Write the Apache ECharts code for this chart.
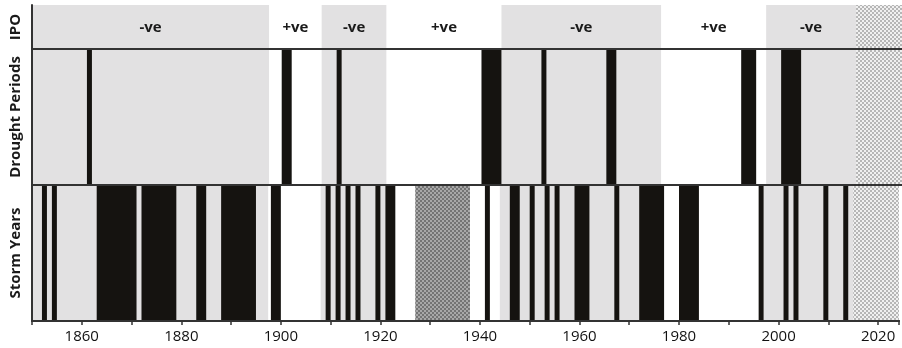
<!DOCTYPE html>
<html><head><meta charset="utf-8">
<script src="https://cdn.jsdelivr.net/npm/echarts@6/dist/echarts.min.js"></script>
<style>html,body{margin:0;padding:0;background:#fff}#c{width:902px;height:348px}</style>
</head><body><div id="c"></div>
<script>
// ---- data ----
const rowNames = ['IPO', 'Drought Periods', 'Storm Years'];
const ipoStarts = [1850, 1897.5, 1908, 1921, 1944, 1976, 1997];
const ipoEnds   = [1897.5, 1908, 1921, 1944, 1976, 1997, 2015];
const ipoSigns  = ['-ve', '+ve', '-ve', '+ve', '-ve', '+ve', '-ve'];
const unknownPeriod = [2015, 2024.2];
const droughtStarts = [1861, 1900, 1911, 1940, 1952, 1965, 1992, 2000];
const droughtEnds   = [1862, 1902, 1912, 1944, 1953, 1967, 1995, 2004];
const stormStarts = [1852, 1854, 1863, 1872, 1883, 1888, 1898, 1909, 1911, 1913, 1915, 1919, 1921, 1941, 1946, 1950, 1953, 1955, 1959, 1967, 1972, 1980, 1996, 2001, 2003, 2009, 2013];
const stormEnds   = [1853, 1855, 1871, 1879, 1885, 1895, 1900, 1910, 1912, 1914, 1916, 1920, 1923, 1942, 1948, 1951, 1954, 1956, 1962, 1968, 1977, 1984, 1997, 2002, 2004, 2010, 2014];
const stormNoData = [1927, 1938];
const xMin = 1850, xMax = 2024.2, tickStep = 10, labelStep = 20;

// ---- styles ----
const GRAY = '#e2e1e2', BLACK = '#151310', LINE = '#333';
const FONT = '"Open Sans", "DejaVu Sans", sans-serif';
function makePattern(bg, fg, cell) {
  const c = document.createElement('canvas'); c.width = c.height = cell * 2;
  const g = c.getContext('2d'); g.fillStyle = bg; g.fillRect(0, 0, cell * 2, cell * 2);
  g.fillStyle = fg; g.fillRect(0, 0, cell, cell); g.fillRect(cell, cell, cell, cell);
  return {image: c, repeat: 'repeat'};
}
const futurePat = makePattern('#f0f0f0', '#b6b6b6', 2);
const stormPat = makePattern('#a8a8a8', '#747474', 2);

const ipoData = ipoStarts.map((s, i) => [s, ipoEnds[i], ipoSigns[i]]);
const pairs = (a, b) => a.map((s, i) => [s, b[i]]);

function bandRender(fillFn, withText) {
  return function (params, api) {
    const x0 = api.coord([api.value(0), 0])[0];
    const x1 = api.coord([api.value(1), 0])[0];
    const cs = params.coordSys;
    const children = [{type: 'rect', shape: {x: x0, y: cs.y, width: x1 - x0, height: cs.height},
      style: {fill: fillFn(params.dataIndex)}}];
    if (withText) {
      children.push({type: 'text', style: {text: api.value(2), x: (x0 + x1) / 2, y: cs.y + cs.height / 2 + 1,
        align: 'center', verticalAlign: 'middle', fontFamily: FONT, fontWeight: 'bold', fontSize: 15, fill: '#1a1a1a'}});
    }
    return {type: 'group', children};
  };
}

const grids = [
  {left: 31, right: 0, top: 5, height: 44},
  {left: 31, right: 0, top: 49, height: 136},
  {left: 31, right: 0, top: 185, height: 136}
];
const lineAxis = (gi, pos) => ({gridIndex: gi, type: 'value', position: pos, min: xMin, max: xMax, z: 5,
  axisLine: {show: true, lineStyle: {color: LINE, width: 2}}, axisTick: {show: false},
  axisLabel: {show: false}, splitLine: {show: false}});
const xAxes = [lineAxis(0, 'top'), lineAxis(1, 'top'), lineAxis(2, 'top'),
  {gridIndex: 2, type: 'value', position: 'bottom', min: xMin, max: xMax, interval: tickStep, z: 5,
    axisLine: {show: true, lineStyle: {color: LINE, width: 2}},
    axisTick: {show: true, length: 4, lineStyle: {color: LINE, width: 1.5}},
    axisLabel: {fontFamily: FONT, fontSize: 15, color: '#111', margin: 8,
      formatter: v => (v % labelStep === 0 ? String(v) : '')},
    splitLine: {show: false}}];
const yAxes = rowNames.map((n, i) => ({gridIndex: i, type: 'value', min: 0, max: 1, z: 5,
  name: n, nameLocation: 'middle', nameGap: 9, nameRotate: 90,
  nameTextStyle: {fontFamily: FONT, fontWeight: 'bold', fontSize: 15, color: '#1a1a1a'},
  axisLine: {show: true, lineStyle: {color: LINE, width: 2}}, axisTick: {show: false},
  axisLabel: {show: false}, splitLine: {show: false}}));

const series = [];
const xIdx = [0, 1, 3];
[0, 1, 2].forEach(r => {
  series.push({type: 'custom', xAxisIndex: xIdx[r], yAxisIndex: r, z: 1,
    renderItem: bandRender(i => (ipoSigns[i] === '-ve' ? GRAY : '#fff'), r === 0), data: ipoData});
  series.push({type: 'custom', xAxisIndex: xIdx[r], yAxisIndex: r, z: 1,
    renderItem: bandRender(() => futurePat, false), data: [unknownPeriod]});
});
series.push({type: 'custom', xAxisIndex: 1, yAxisIndex: 1, z: 2,
  renderItem: bandRender(() => BLACK, false), data: pairs(droughtStarts, droughtEnds)});
series.push({type: 'custom', xAxisIndex: 3, yAxisIndex: 2, z: 2,
  renderItem: bandRender(() => BLACK, false), data: pairs(stormStarts, stormEnds)});
series.push({type: 'custom', xAxisIndex: 3, yAxisIndex: 2, z: 2,
  renderItem: bandRender(() => stormPat, false), data: [stormNoData]});

const chart = echarts.init(document.getElementById('c'), null, {renderer: 'canvas'});
chart.setOption({animation: false, backgroundColor: '#fff', grid: grids, xAxis: xAxes, yAxis: yAxes, series});
</script></body></html>
